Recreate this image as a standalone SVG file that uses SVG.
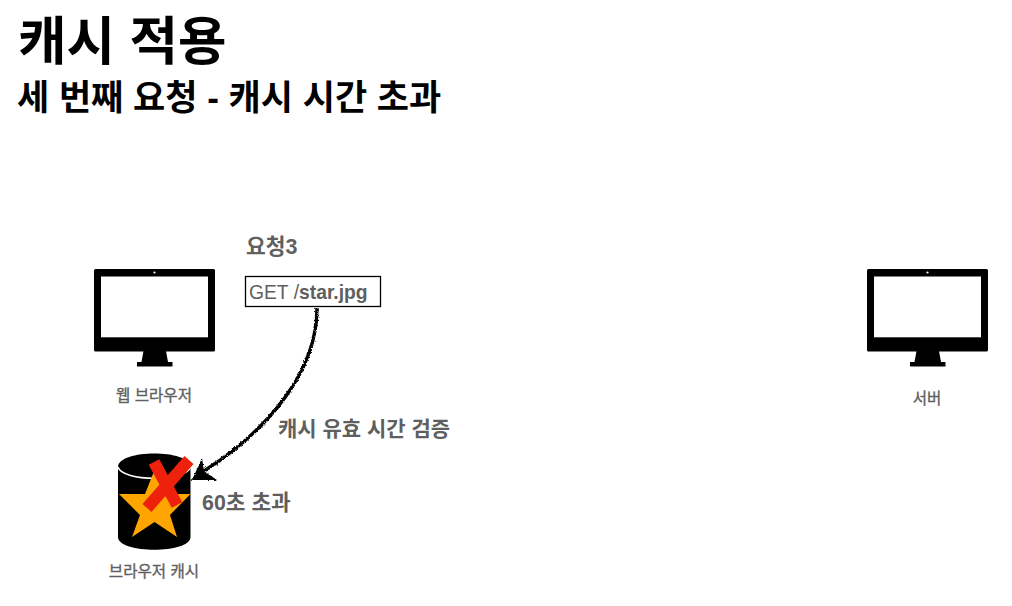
<svg xmlns="http://www.w3.org/2000/svg" width="1012" height="606" viewBox="0 0 1012 606">
<style>
text{font-family:"Liberation Sans","Noto Sans CJK KR",sans-serif}
.t{fill:#000;font-weight:700}
.g{fill:#5f5f5f;font-weight:700}
.s{font-size:15.600px;text-anchor:middle;fill:#5f5f5f;stroke:#5f5f5f;stroke-width:.35px}
</style>
<defs>
<filter id="rough" x="-10%" y="-10%" width="120%" height="120%">
<feTurbulence type="fractalNoise" baseFrequency="0.7" numOctaves="2" seed="4"/>
<feDisplacementMap in="SourceGraphic" scale="3.400" xChannelSelector="R" yChannelSelector="G"/>
</filter>
<g id="mon">
<path d="M1.500 0H119.500a1.500 1.500 0 0 1 1.500 1.500V81a1.500 1.500 0 0 1-1.500 1.500H1.500a1.500 1.500 0 0 1-1.500-1.500V1.500A1.500 1.500 0 0 1 1.500 0Z" fill="#000"/>
<rect x="7" y="7.500" width="107" height="60.800" fill="#fff"/>
<circle cx="60.500" cy="3.500" r="1.100" fill="#fff"/>
<path d="M49.500 82H72L74 93H78.500V97.500H43V93H47.500Z" fill="#000"/>
</g>
</defs>
<g id="title">
<text class="t" x="18" y="60" font-size="52.700">캐시 적용</text>
<text class="t" x="17" y="110" font-size="35">세 번째 요청 - 캐시 시간 초과</text>
</g>
<g id="browser">
<use href="#mon" x="94" y="269"/>
<text class="s" x="154" y="401">웹 브라우저</text>
</g>
<g id="server">
<use href="#mon" x="867" y="269"/>
<text class="s" x="927" y="404">서버</text>
</g>
<g id="request">
<text class="g" x="246" y="254" font-size="21.500">요청3</text>
<rect x="245.500" y="276.500" width="135" height="30" fill="#fff" stroke="#000" stroke-width="1.300"/>
<text x="249" y="299" font-size="19.300" fill="#5f5f5f">GET /<tspan font-weight="700">star.jpg</tspan></text>
</g>
<g id="cache">
<path d="M118 467C118 449 190.500 449 190.500 467V537C190.500 554 118 554 118 537Z" fill="#000"/>
<path d="M118 467C122 482 186.500 482 190.500 467" fill="none" stroke="#fff" stroke-width="1.500"/>
<path d="M154.500 470L164 494H190.500L170 515L177 537L154.500 522L132 537L140 515L119 494H145Z" fill="#ffa500"/>
<path d="M154 462L177 505M189 460L147 508" fill="none" stroke="#ee220c" stroke-width="12"/>
<text class="s" x="154" y="577">브라우저 캐시</text>
</g>
<g id="connectors" filter="url(#rough)">
<path d="M317 308C317 372 268 430 204 471" fill="none" stroke="#000" stroke-width="3.400"/>
<path d="M202 458L192 480H217L204 471Z" fill="#000"/>
</g>
<g id="labels">
<text class="g" x="278" y="436" font-size="21">캐시 유효 시간 검증</text>
<text class="g" x="202" y="510" font-size="21.400">60초 초과</text>
</g>
</svg>
